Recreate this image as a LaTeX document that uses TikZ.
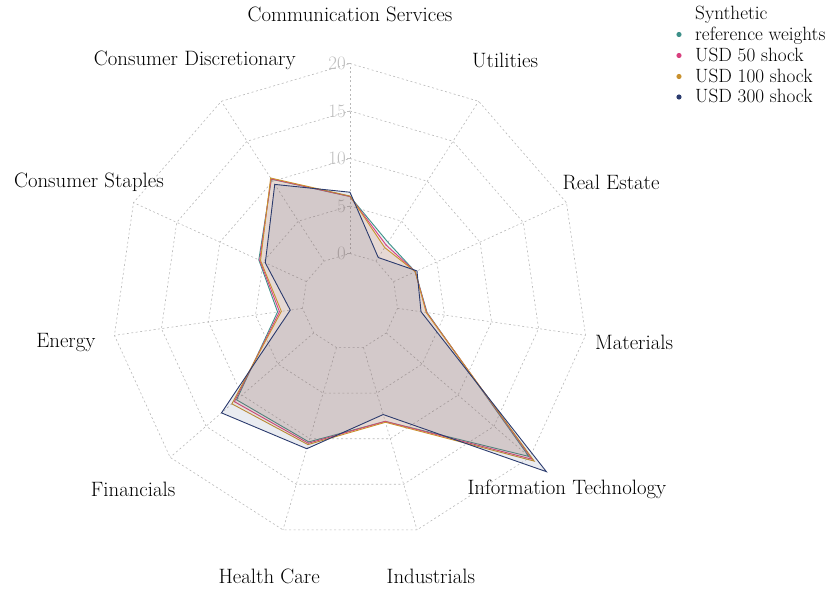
\documentclass[tikz,border=0pt]{standalone}
\definecolor{refteal}{HTML}{3E9089}
\definecolor{shockpink}{HTML}{D8407F}
\definecolor{shockgold}{HTML}{C9912E}
\definecolor{shocknavy}{HTML}{2B3B6E}
\tikzset{grid/.style={black!28,line width=0.6pt,dash pattern=on 2pt off 2.5pt}}
\tikzset{series/.style={draw=#1,fill=#1,fill opacity=0.1,line width=0.9pt,line join=miter}}
\tikzset{cat/.style={font=\fontsize{20.8}{25}\selectfont,inner sep=0pt}}
\tikzset{ticklab/.style={text=black!25,font=\fontsize{19}{22}\selectfont,anchor=east,inner sep=1pt}}
\tikzset{leg/.style={font=\fontsize{19.2}{22}\selectfont,anchor=base west,inner sep=0pt}}
% one polygon per portfolio, values in the order of the sectors
\newcommand\radarseries[2]{%
  \path \foreach \v [count=\j] in {#2} {coordinate (s\j) at ({90-(\j-1)*360/11}:{48+9.5*\v})};
  \draw[series=#1] (s1) \foreach \j in {2,...,11} {-- (s\j)} -- cycle;}

\begin{document}
\begin{tikzpicture}[x=1pt,y=1pt]
  \useasboundingbox (-350,-290.5) rectangle (475,301.5);
  % grid
  \foreach \lv in {0,5,...,20} {
    \draw[grid] (90:{48+9.5*\lv}) \foreach \k in {1,...,10} {-- ({90-\k*360/11}:{48+9.5*\lv})} -- cycle;
  }
  \foreach \k in {0,...,10}
    \draw[grid] ({90-\k*360/11}:48) -- ({90-\k*360/11}:238);
  % radial ticks
  \foreach \lv in {0,5,...,20} {
    \draw[black!25,line width=0.5pt] (-3,{48+9.5*\lv}) -- (0,{48+9.5*\lv});
    \node[ticklab] (t\lv) at (-3,{48+9.5*\lv}) {\lv};
  }
  % portfolios
  \radarseries{refteal}{6.0,2.35,2.5,3.15,19.85,8.1,10.35,10.75,2.65,5.5,10.25}
  \radarseries{shockpink}{6.0,2.0,2.5,3.1,20.3,8.1,10.5,11.05,2.45,5.4,10.3}
  \radarseries{shockgold}{6.05,1.7,2.5,3.05,20.6,8.2,10.65,11.4,2.25,5.3,10.4}
  \radarseries{shocknavy}{6.45,0.45,2.7,2.5,22.3,7.35,11.1,12.85,1.3,4.75,9.6}
  % sector names
  \foreach \lab [count=\i] in {Communication Services,Utilities,Real Estate,Materials,
      Information Technology,Industrials,Health Care,Financials,Energy,
      Consumer Staples,Consumer Discretionary}
    \node[cat] (c\i) at ({90-(\i-1)*360/11}:287) {\lab};
  % legend
  \node[leg] (legtitle) at (345,281.5) {Synthetic};
  \foreach \col/\txt/\yb [count=\i] in {refteal/reference weights/261,
      shockpink/USD 50 shock/240,shockgold/USD 100 shock/219,shocknavy/USD 300 shock/198.5} {
    \fill[\col] (329,\yb+6) circle (2.6);
    \node[leg] (leg\i) at (345,\yb) {\txt};
  }
\end{tikzpicture}
\end{document}
